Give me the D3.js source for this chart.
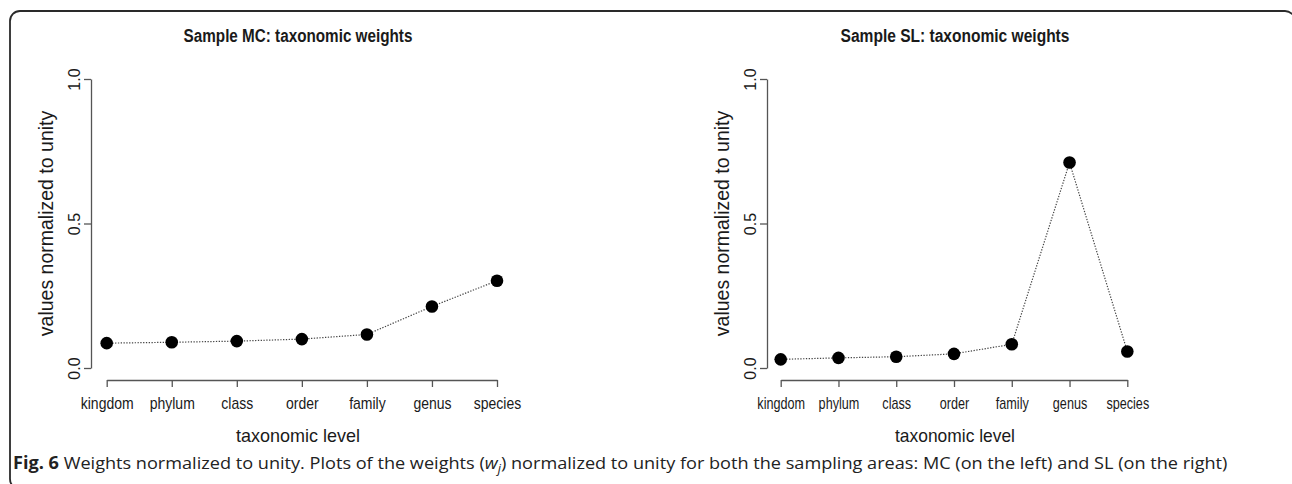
<!DOCTYPE html>
<html>
<head>
<meta charset="utf-8">
<script src="https://cdn.jsdelivr.net/npm/d3@7"></script>
<style>
  html, body { margin: 0; padding: 0; background: #fff; }
  svg { display: block; }
</style>
</head>
<body>
<svg id="fig" width="1292" height="484"></svg>
<script>
// données
const levels = ["kingdom", "phylum", "class", "order", "family", "genus", "species"];
const mcWeights = [0.086, 0.089, 0.093, 0.100, 0.116, 0.213, 0.302];
const slWeights = [0.030, 0.035, 0.039, 0.049, 0.082, 0.711, 0.057];
const yTicks = [0, 0.5, 1];
const yTickLabels = ["0.0", "0.5", "1.0"];
const titles = ["Sample MC: taxonomic weights", "Sample SL: taxonomic weights"];

const svg = d3.select("#fig");
const ink = "#1a1a1a";
const axisGrey = "#555";
const font = "Liberation Sans, Arial, sans-serif";

// cadre arrondi
svg.append("rect")
    .attr("x", 10).attr("y", 11)
    .attr("width", 1285).attr("height", 478)
    .attr("rx", 10).attr("ry", 10)
    .style("fill", "none").style("stroke", "#2a2a2a").style("stroke-width", 1.8);

// écrase un texte horizontalement pour tenir dans une largeur donnée
function squeeze(sel, x, y, width) {
    sel.each(function () {
        const w = this.getComputedTextLength();
        d3.select(this).attr("transform", `translate(${x},${y}) scale(${width / w},1)`);
    });
}

// position des deux panneaux
const panels = [
    { title: titles[0], values: mcWeights, axisX: 91, x0: 106.7, x1: 497, cx: 298, tickSx: 0.875, xlabW: 124 },
    { title: titles[1], values: slWeights, axisX: 767, x0: 780.7, x1: 1127.3, cx: 955, tickSx: 0.79, xlabW: 120 }
];

const yTop = 79, yBottom = 368, xAxisY = 380;

panels.forEach(p => {
    const x = d3.scalePoint().domain(levels).range([p.x0, p.x1]);
    const y = d3.scaleLinear().domain([0, 1]).range([yBottom, yTop]);
    const g = svg.append("g");

    // titre
    g.append("text")
        .attr("text-anchor", "middle")
        .style("font-family", font)
        .style("font-weight", "bold")
        .style("font-size", "18px")
        .style("fill", ink)
        .text(p.title)
        .call(squeeze, p.cx, 42, 229);

    // axe x
    const gx = g.append("g")
        .attr("transform", `translate(0,${xAxisY})`)
        .call(d3.axisBottom(x).tickSize(7).tickSizeOuter(0));
    gx.select(".domain").style("stroke", axisGrey).style("stroke-width", 1.3);
    gx.selectAll(".tick line").style("stroke", axisGrey).style("stroke-width", 1.3);
    gx.selectAll(".tick text")
        .attr("y", null).attr("dy", null)
        .attr("transform", `translate(0,29) scale(${p.tickSx},1)`)
        .style("font-family", font)
        .style("font-size", "16px")
        .style("fill", ink);

    // axe y
    const gy = g.append("g")
        .attr("transform", `translate(${p.axisX},0)`)
        .call(d3.axisLeft(y).tickValues(yTicks).tickFormat((d, i) => yTickLabels[i]).tickSize(7).tickSizeOuter(0));
    gy.select(".domain").style("stroke", axisGrey).style("stroke-width", 1.3);
    gy.selectAll(".tick line").style("stroke", axisGrey).style("stroke-width", 1.3);
    gy.selectAll(".tick text")
        .attr("x", null).attr("dy", null)
        .attr("transform", "translate(-11,0) rotate(-90)")
        .attr("text-anchor", "middle")
        .style("font-family", font)
        .style("font-size", "16px")
        .style("fill", ink);

    // libellés des axes
    g.append("text")
        .attr("text-anchor", "middle")
        .style("font-family", font)
        .style("font-size", "19px")
        .style("fill", ink)
        .text("taxonomic level")
        .call(squeeze, p.cx, 442, p.xlabW);

    g.append("text")
        .attr("transform", `translate(${p.axisX - 38},${(yTop + yBottom) / 2}) rotate(-90)`)
        .attr("text-anchor", "middle")
        .style("font-family", font)
        .style("font-size", "19.5px")
        .style("fill", ink)
        .text("values normalized to unity");

    // ligne pointillée + points
    const line = d3.line().x((d, i) => x(levels[i])).y(d => y(d));
    g.append("path")
        .datum(p.values)
        .attr("d", line)
        .style("fill", "none")
        .style("stroke", "#444")
        .style("stroke-width", 1.2)
        .style("stroke-dasharray", "1.3,1.5");

    g.selectAll("circle")
        .data(p.values)
        .enter()
        .append("circle")
        .attr("cx", (d, i) => x(levels[i]))
        .attr("cy", d => y(d))
        .attr("r", 6.3)
        .style("fill", "#000");
});

// légende de la figure
const caption = svg.append("text")
    .attr("x", 0).attr("y", 0)
    .style("font-family", "Open Sans, Noto Sans, sans-serif")
    .style("font-size", "17px")
    .style("fill", "#222");
caption.append("tspan").style("font-weight", "bold").text("Fig. 6");
caption.append("tspan").text(" Weights normalized to unity. Plots of the weights (");
caption.append("tspan").style("font-style", "italic").text("w");
caption.append("tspan").attr("dy", 4).style("font-style", "italic").style("font-size", "12px").text("j");
caption.append("tspan").attr("dy", -4).text(") normalized to unity for both the sampling areas: MC (on the left) and SL (on the right)");

caption.call(squeeze, 13, 469, 1228 - 13);
</script>
</body>
</html>
